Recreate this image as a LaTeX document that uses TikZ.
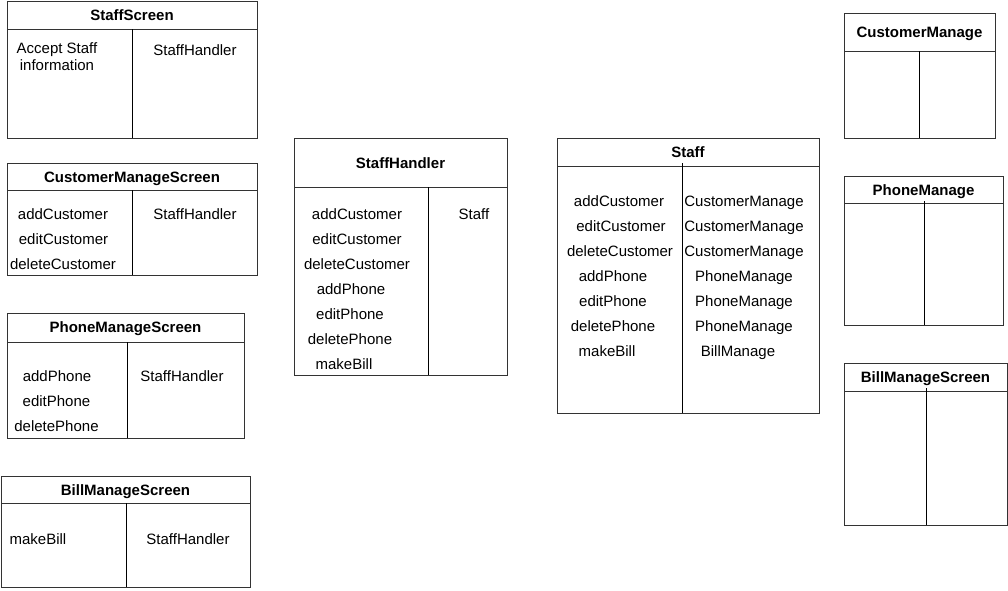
\documentclass[tikz,border=0pt]{standalone}
\usepackage{fontspec}
\setmainfont{Liberation Sans}
\begin{document}
\begin{tikzpicture}[x=1pt, y=-1pt, line width=1pt,
    every node/.style = {font=\fontsize{15}{17}\selectfont, inner sep=0pt, anchor=base},
    tabletitle/.style = {font=\fontsize{15}{17}\selectfont\bfseries},
    frame/.style = {draw=black!80},
    divider/.style = {draw=black},
    ]
  \useasboundingbox (0,0) rectangle (1008,590);

  % StaffScreen
  \draw[frame] (7,1) rectangle (257,138);
  \draw[frame] (7,29) -- (257,29);
  \draw[divider] (132,29) -- (132,138);
  \node[tabletitle] (staffScreen) at (132,20) {StaffScreen};
  \node[align=center] (staffScreenInfo) at (57,70) {Accept Staff\\information};
  \node (staffScreenRef) at (195,55) {StaffHandler};

  % CustomerManageScreen
  \draw[frame] (7,163) rectangle (257,275);
  \draw[frame] (7,190) -- (257,190);
  \draw[divider] (132,190) -- (132,275);
  \node[tabletitle] (customerScreen) at (132,182) {CustomerManageScreen};
  \foreach \x/\y/\t [count=\i] in {63/219/addCustomer, 63.5/244/editCustomer, 63/269/deleteCustomer}
    \node (customerScreenOp\i) at (\x,\y) {\t};
  \node (customerScreenRef) at (195,219) {StaffHandler};

  % PhoneManageScreen
  \draw[frame] (7,313) rectangle (244,438);
  \draw[frame] (7,342) -- (244,342);
  \draw[divider] (127,342) -- (127,438);
  \node[tabletitle] (phoneScreen) at (125.5,332) {PhoneManageScreen};
  \foreach \x/\y/\t [count=\i] in {57/381/addPhone, 56.5/406/editPhone, 56.5/431/deletePhone}
    \node (phoneScreenOp\i) at (\x,\y) {\t};
  \node (phoneScreenRef) at (182,381) {StaffHandler};

  % BillManageScreen
  \draw[frame] (1,476) rectangle (250,587);
  \draw[frame] (1,503) -- (250,503);
  \draw[divider] (126,503) -- (126,587);
  \node[tabletitle] (billScreen) at (125.5,495) {BillManageScreen};
  \node (billScreenOp) at (38,544) {makeBill};
  \node (billScreenRef) at (188,544) {StaffHandler};

  % StaffHandler
  \draw[frame] (294,138) rectangle (507,375);
  \draw[frame] (294,187) -- (507,187);
  \draw[divider] (428,187) -- (428,375);
  \node[tabletitle] (staffHandler) at (400.5,168) {StaffHandler};
  \foreach \x/\y/\t [count=\i] in {357/219/addCustomer, 357/244/editCustomer, 357/269/deleteCustomer,
      351/294/addPhone, 350/319/editPhone, 350/344/deletePhone, 344/369/makeBill}
    \node (staffHandlerOp\i) at (\x,\y) {\t};
  \node (staffHandlerRef) at (474,219) {Staff};

  % Staff
  \draw[frame] (557,138) rectangle (819,413);
  \draw[frame] (557,166) -- (819,166);
  \draw[divider] (682,163) -- (682,413);
  \node[tabletitle] (staff) at (688,157) {Staff};
  \foreach \x/\y/\t [count=\i] in {619/206/addCustomer, 621/231/editCustomer, 620/256/deleteCustomer,
      613/281/addPhone, 613/306/editPhone, 613/331/deletePhone, 607/356/makeBill}
    \node (staffOp\i) at (\x,\y) {\t};
  \foreach \x/\y/\t [count=\i] in {744/206/CustomerManage, 744/231/CustomerManage, 744/256/CustomerManage,
      744/281/PhoneManage, 744/306/PhoneManage, 744/331/PhoneManage, 738/356/BillManage}
    \node (staffRef\i) at (\x,\y) {\t};

  % CustomerManage
  \draw[frame] (844,13) rectangle (995,138);
  \draw[frame] (844,51) -- (995,51);
  \draw[divider] (919,51) -- (919,138);
  \node[tabletitle] (customerManage) at (919.5,37) {CustomerManage};

  % PhoneManage
  \draw[frame] (844,176) rectangle (1003,325);
  \draw[frame] (844,203) -- (1003,203);
  \draw[divider] (924,201) -- (924,325);
  \node[tabletitle] (phoneManage) at (923.5,195) {PhoneManage};

  % BillManageScreen (right)
  \draw[frame] (844,363) rectangle (1007,525);
  \draw[frame] (844,391) -- (1007,391);
  \draw[divider] (926,388) -- (926,525);
  \node[tabletitle] (billManage) at (925.5,382) {BillManageScreen};
\end{tikzpicture}
\end{document}
